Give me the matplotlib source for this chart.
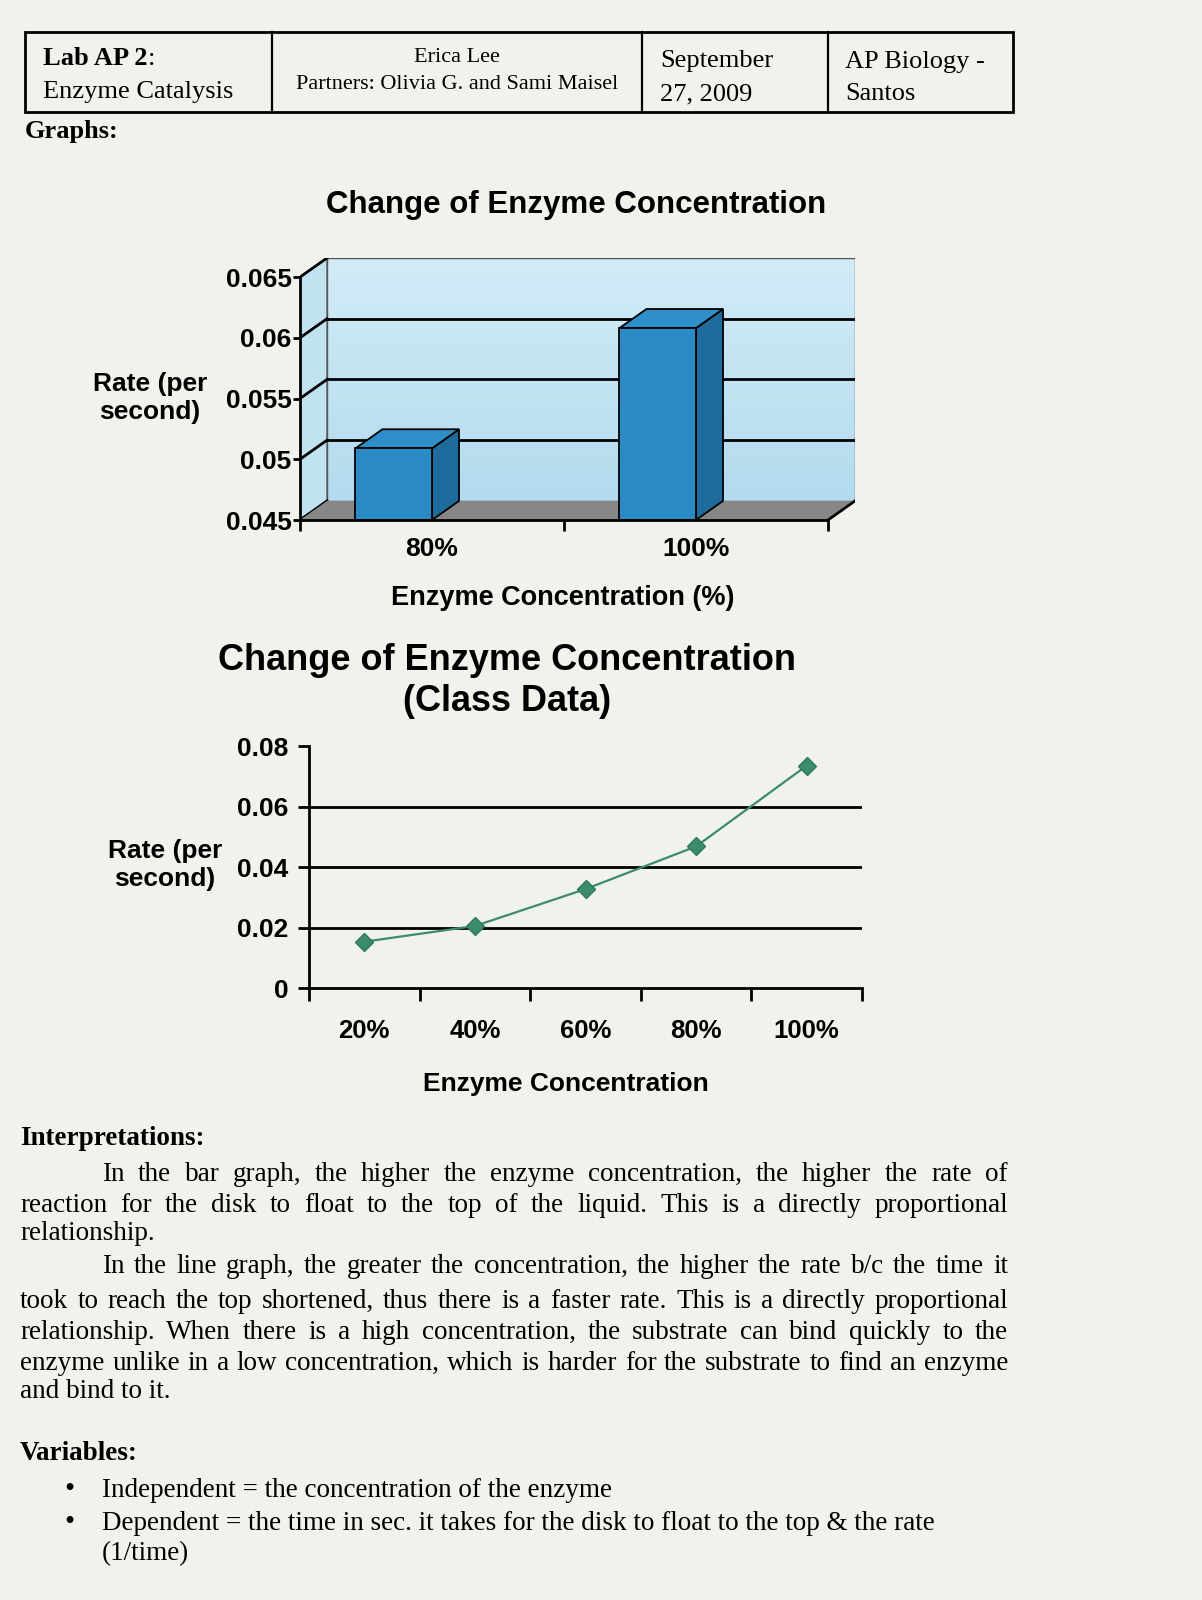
import numpy as np
import matplotlib.pyplot as plt
from matplotlib.patches import Rectangle, Polygon
from matplotlib.colors import LinearSegmentedColormap

W, H = 1202, 1600
PAPER = "#f1f2ec"
SANS = "Liberation Sans"
SERIF = "Liberation Serif"

# ---------------- data ----------------
bar_cats = ["80%", "100%"]
bar_vals = [0.0509, 0.0608]
bar_yticks = [0.045, 0.05, 0.055, 0.06, 0.065]
bar_yticklabels = ["0.045", "0.05", "0.055", "0.06", "0.065"]

line_cats = ["20%", "40%", "60%", "80%", "100%"]
line_vals = [0.0153, 0.0205, 0.0327, 0.0468, 0.0735]
line_yticks = [0, 0.02, 0.04, 0.06, 0.08]
line_yticklabels = ["0", "0.02", "0.04", "0.06", "0.08"]

header_cells = [
    ("Lab AP 2", "Enzyme Catalysis"),
    ("Erica Lee", "Partners: Olivia G. and Sami Maisel"),
    ("September", "27, 2009"),
    ("AP Biology -", "Santos"),
]

para1 = [
    "In the bar graph, the higher the enzyme concentration, the higher the rate of",
    "reaction for the disk to float to the top of the liquid. This is a directly proportional",
    "relationship.",
]
para2 = [
    "In the line graph, the greater the concentration, the higher the rate b/c the time it",
    "took to reach the top shortened, thus there is a faster rate. This is a directly proportional",
    "relationship. When there is a high concentration, the substrate can bind quickly to the",
    "enzyme unlike in a low concentration, which is harder for the substrate to find an enzyme",
    "and bind to it.",
]
bullets = [
    "Independent = the concentration of the enzyme",
    "Dependent = the time in sec. it takes for the disk to float to the top & the rate",
]
bullet_cont = "(1/time)"

# ---------------- page ----------------
fig = plt.figure(figsize=(W / 100, H / 100), dpi=100, facecolor=PAPER)
bg = fig.add_axes([0, 0, 1, 1], zorder=0)
bg.set_xlim(0, W)
bg.set_ylim(H, 0)
bg.axis("off")
renderer = fig.canvas.get_renderer()
BODY = 19.5
BASE = 8  # baseline below the visual line centre, px

# header table
bg.add_patch(Rectangle((25, 32), 988, 80, fill=False, ec="black", lw=2))
for xc in [272, 642, 828]:
    bg.plot([xc, xc], [32, 112], color="black", lw=1.6)
t = bg.text(43, 57 + BASE, header_cells[0][0], family=SERIF, weight="bold",
            fontsize=19, va="baseline")
wl = t.get_window_extent(renderer).width
bg.text(43 + wl, 57 + BASE, ":", family=SERIF, fontsize=19, va="baseline")
bg.text(43, 90 + BASE, header_cells[0][1], family=SERIF, fontsize=19, va="baseline")
bg.text(457, 55 + 7, header_cells[1][0], family=SERIF, fontsize=16, va="baseline", ha="center")
bg.text(457, 82 + 7, header_cells[1][1], family=SERIF, fontsize=16, va="baseline", ha="center")
bg.text(660, 59 + BASE, header_cells[2][0], family=SERIF, fontsize=19, va="baseline")
bg.text(660, 92 + BASE, header_cells[2][1], family=SERIF, fontsize=19, va="baseline")
bg.text(845, 60 + BASE, header_cells[3][0], family=SERIF, fontsize=19, va="baseline")
bg.text(845, 92 + BASE, header_cells[3][1], family=SERIF, fontsize=19, va="baseline")
bg.text(25, 130 + BASE, "Graphs:", family=SERIF, weight="bold", fontsize=19, va="baseline")


def justify(line, x0, x1, y, size=BODY):
    words = line.split(" ")
    arts = [bg.text(0, y + BASE, w, family=SERIF, fontsize=size, va="baseline") for w in words]
    widths = [a.get_window_extent(renderer).width for a in arts]
    gap = max((x1 - x0 - sum(widths)) / max(len(words) - 1, 1), 3)
    x = x0
    for a, wd in zip(arts, widths):
        a.set_x(x)
        x += wd + gap


def plain(line, x0, y, size=BODY, **kw):
    bg.text(x0, y + BASE, line, family=SERIF, fontsize=size, va="baseline", **kw)


LEFT, RIGHT, INDENT = 20, 1008, 102
plain("Interpretations:", LEFT, 1137, weight="bold")
justify(para1[0], INDENT, RIGHT, 1173)
justify(para1[1], LEFT, RIGHT, 1204)
plain(para1[2], LEFT, 1232)
justify(para2[0], INDENT, RIGHT, 1265)
justify(para2[1], LEFT, RIGHT, 1300)
justify(para2[2], LEFT, RIGHT, 1331)
justify(para2[3], LEFT, RIGHT, 1362)
plain(para2[4], LEFT, 1390)
plain("Variables:", LEFT, 1452, weight="bold")
for yy, b in zip([1489, 1522], bullets):
    plain("\u2022", 64, yy, size=21)
    plain(b, INDENT, yy)
plain(bullet_cont, INDENT, 1552)

# ---------------- bar chart (3D look) ----------------
y0 = 0.045
DX, DY = 0.1023, 0.00157
BW = 0.29
ax1 = fig.add_axes([300 / W, 1 - 520 / H, 555 / W, 262 / H], zorder=2)
ax1.patch.set_alpha(0)
ax1.set_xlim(0, 2 + DX)
ax1.set_ylim(y0, 0.065 + DY)

cmap = LinearSegmentedColormap.from_list("wall", ["#b3dbee", "#d2ecf7"])
grad = np.linspace(0, 1, 100).reshape(-1, 1)
ax1.imshow(grad, extent=[DX, 2 + DX, y0 + DY, 0.065 + DY], origin="lower",
           aspect="auto", cmap=cmap, zorder=0)
ax1.add_patch(Rectangle((DX, y0 + DY), 2, 0.02, fill=False, ec="#555555", lw=1, zorder=1))
ax1.add_patch(Polygon([(0, y0), (DX, y0 + DY), (DX, 0.065 + DY), (0, 0.065)],
                      fc="#c0e2f1", ec="#555555", lw=1, zorder=1))
for v in bar_yticks[1:-1]:
    ax1.plot([DX, 2 + DX], [v + DY, v + DY], color="black", lw=2, zorder=2)
for v in bar_yticks:
    ax1.plot([0, DX], [v, v + DY], color="black", lw=2, zorder=2)
ax1.add_patch(Polygon([(0, y0), (2, y0), (2 + DX, y0 + DY), (DX, y0 + DY)],
                      fc="#878785", ec="none", zorder=2))
ax1.plot([2, 2 + DX], [y0, y0 + DY], color="black", lw=2, zorder=3)

for i, v in enumerate(bar_vals):
    x0 = i + 0.5 - BW
    ax1.add_patch(Polygon([(x0 + BW, y0), (x0 + BW + DX, y0 + DY), (x0 + BW + DX, v + DY), (x0 + BW, v)],
                          fc="#1f6b9b", ec="black", lw=1.3, zorder=4))
    ax1.add_patch(Polygon([(x0, v), (x0 + BW, v), (x0 + BW + DX, v + DY), (x0 + DX, v + DY)],
                          fc="#2f8fca", ec="black", lw=1.3, zorder=4))
    ax1.add_patch(Rectangle((x0, y0), BW, v - y0, fc="#2a8bc7", ec="black", lw=1.3, zorder=5))

for s in ["top", "right"]:
    ax1.spines[s].set_visible(False)
for s in ["left", "bottom"]:
    ax1.spines[s].set_linewidth(2)
    ax1.spines[s].set_zorder(6)
ax1.spines["left"].set_bounds(y0, 0.065)
ax1.spines["bottom"].set_bounds(0, 2)
ax1.set_yticks(bar_yticks, bar_yticklabels)
ax1.set_xticks([0, 1, 2], ["", "", ""])
ax1.set_xticks([0.5, 1.5], bar_cats, minor=True)
ax1.tick_params(axis="y", direction="out", length=5, width=2, pad=1, labelsize=19)
ax1.tick_params(axis="x", which="major", direction="out", length=8, width=2)
ax1.tick_params(axis="x", which="minor", length=0, pad=12, labelsize=19)
for lab in ax1.get_yticklabels() + ax1.get_xticklabels(minor=True):
    lab.set_family(SANS)
    lab.set_weight("bold")

bg.text(576, 205, "Change of Enzyme Concentration", family=SANS, weight="bold",
        fontsize=22.5, ha="center", va="center")
bg.text(150, 398, "Rate (per\nsecond)", family=SANS, weight="bold", fontsize=19,
        ha="center", va="center", linespacing=1.2)
bg.text(563, 598, "Enzyme Concentration (%)", family=SANS, weight="bold",
        fontsize=19.5, ha="center", va="center")

# ---------------- line chart ----------------
ax2 = fig.add_axes([309 / W, 1 - 988 / H, 553 / W, 242 / H], zorder=2)
ax2.patch.set_alpha(0)
xs = np.arange(len(line_cats)) + 0.5
ax2.set_xlim(0, len(line_cats))
ax2.set_ylim(0, 0.08)
for v in line_yticks[1:-1]:
    ax2.axhline(v, color="black", lw=2, zorder=1)
ax2.plot(xs, line_vals, color="#3b8b6f", lw=1.6, marker="D", ms=9,
         mfc="#3b8b6f", mec="#2f7a5f", zorder=3)
for s in ["top", "right"]:
    ax2.spines[s].set_visible(False)
for s in ["left", "bottom"]:
    ax2.spines[s].set_linewidth(2)
ax2.set_yticks(line_yticks, line_yticklabels)
ax2.set_xticks(np.arange(len(line_cats) + 1), [""] * (len(line_cats) + 1))
ax2.set_xticks(xs, line_cats, minor=True)
ax2.tick_params(axis="y", direction="out", length=8, width=2, pad=7, labelsize=19)
ax2.tick_params(axis="x", which="major", direction="out", length=9, width=2)
ax2.tick_params(axis="x", which="minor", length=0, pad=22, labelsize=18.5)
for lab in ax2.get_yticklabels() + ax2.get_xticklabels(minor=True):
    lab.set_family(SANS)
    lab.set_weight("bold")

bg.text(507, 681, "Change of Enzyme Concentration\n(Class Data)", family=SANS,
        weight="bold", fontsize=26, ha="center", va="center", linespacing=1.25)
bg.text(165, 865, "Rate (per\nsecond)", family=SANS, weight="bold", fontsize=19,
        ha="center", va="center", linespacing=1.25)
bg.text(566, 1084, "Enzyme Concentration", family=SANS, weight="bold",
        fontsize=19, ha="center", va="center")

fig.savefig("out.png", dpi=100, facecolor=PAPER)
